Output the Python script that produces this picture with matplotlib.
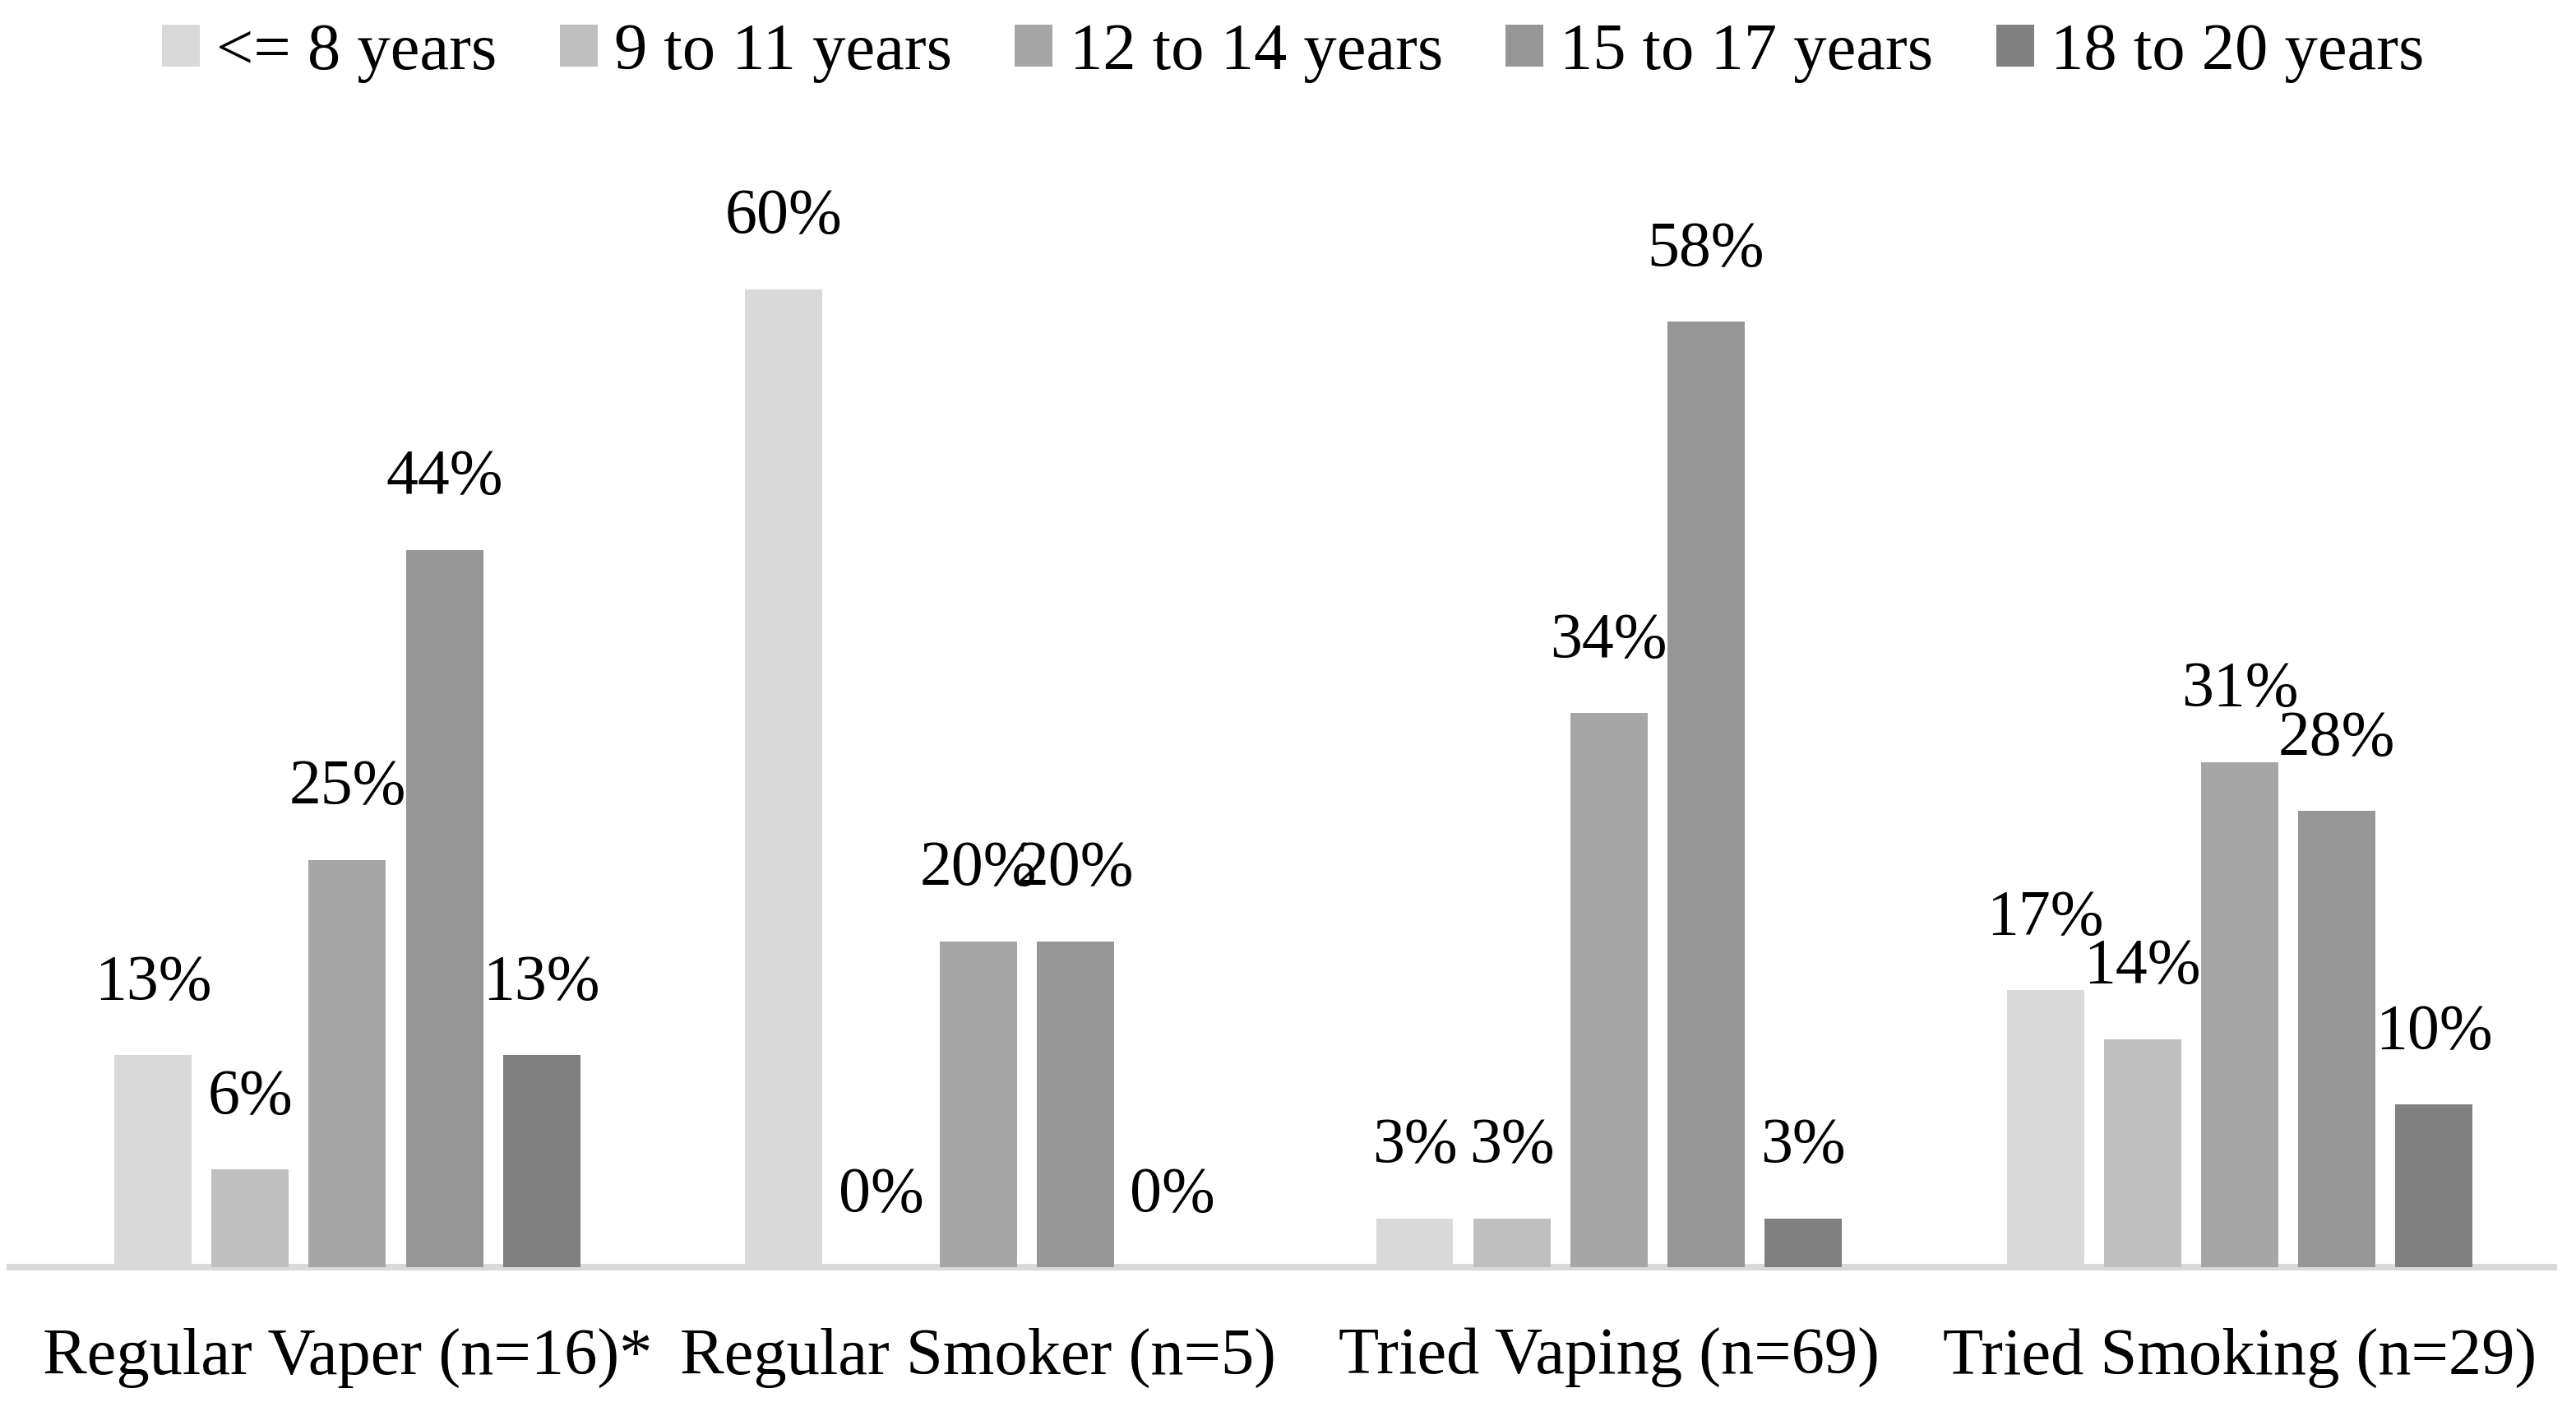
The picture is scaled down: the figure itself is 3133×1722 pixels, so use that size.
import numpy as np
import matplotlib
matplotlib.use("Agg")
import matplotlib.pyplot as plt

categories = ["Regular Vaper (n=16)*", "Regular Smoker (n=5)", "Tried Vaping (n=69)", "Tried Smoking (n=29)"]
age_groups = ["<= 8 years", "9 to 11 years", "12 to 14 years", "15 to 17 years", "18 to 20 years"]
le_8 = [13, 60, 3, 17]
y9_11 = [6, 0, 3, 14]
y12_14 = [25, 20, 34, 31]
y15_17 = [44, 20, 58, 28]
y18_20 = [13, 0, 3, 10]
series = [le_8, y9_11, y12_14, y15_17, y18_20]
colors = ["#D9D9D9", "#BFBFBF", "#A6A6A6", "#969696", "#808080"]

plt.rcParams['font.family'] = ['Liberation Serif', 'DejaVu Serif']
fs = 58

fig = plt.figure(figsize=(31.33, 17.22), dpi=100)
ax = fig.add_axes([12 / 3133, 0.105, 3094 / 3133, 0.806])

x = np.arange(len(categories))
pitch = 0.154
width = 0.1225
for i, (vals, name, c) in enumerate(zip(series, age_groups, colors)):
    pos = x + (i - 2) * pitch
    bars = ax.bar(pos, vals, width, color=c, label=name, zorder=3)
    for xb, v in zip(pos, vals):
        ax.annotate(f"{v}%", (xb, v), xytext=(0, 37), textcoords="offset points",
                    ha="center", va="bottom", fontsize=56)

ax.set_xlim(-0.535, 3.498)
ax.set_ylim(0, 70)
ax.set_yticks([])
ax.set_xticks(x)
ax.set_xticklabels(categories, fontsize=fs)
ax.tick_params(axis="x", length=0, pad=53)
for s in ["top", "left", "right"]:
    ax.spines[s].set_visible(False)
ax.spines["bottom"].set_color("#D9D9D9")
ax.spines["bottom"].set_linewidth(5.8)
ax.spines["bottom"].set_zorder(2)

fig.legend(loc="upper center", bbox_to_anchor=(0.502, 1.026), ncol=5, frameon=False,
           fontsize=fs, handlelength=0.57, handleheight=0.6, handletextpad=0.25,
           columnspacing=0.95)

fig.savefig("out.png", dpi=100)
